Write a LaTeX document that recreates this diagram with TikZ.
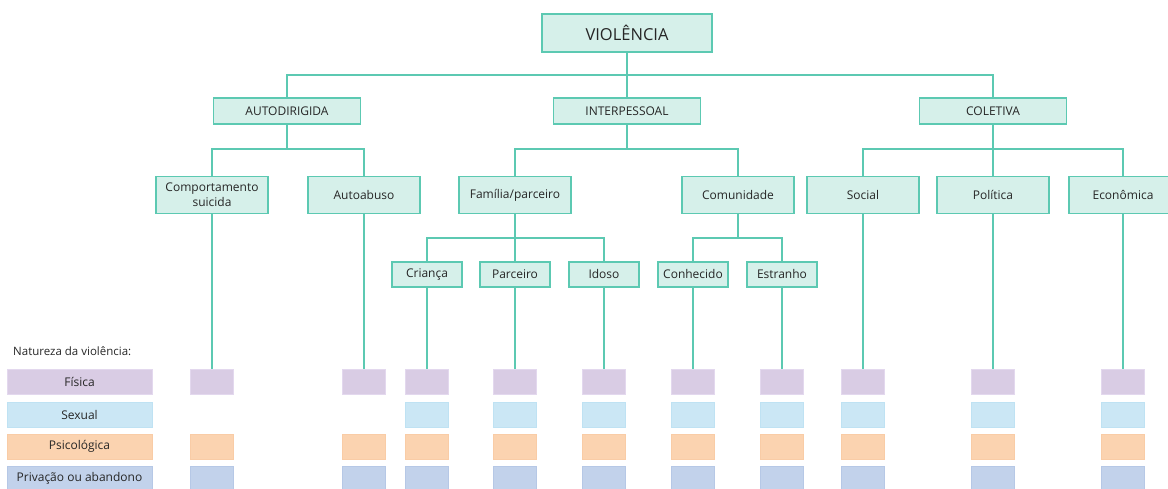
\documentclass[tikz,border=0pt]{standalone}
\usepackage{fontspec}
\setmainfont{Open Sans}
\begin{document}
\begin{tikzpicture}[x=1pt,y=-1pt,
  conn/.style={draw=lineteal,line width=2pt},
  tbox/.style={draw=lineteal,fill=boxfill,line width=1.2pt,inner sep=0pt,text=txt,font=\fontsize{12}{15}\selectfont,align=center},
  lvtwo/.style={tbox,minimum width=147pt,minimum height=26pt},
  lvthree/.style={tbox,minimum width=112pt,minimum height=37pt},
  lvfour/.style={tbox,minimum width=70pt,minimum height=25pt},
  sq/.style={inner sep=0pt,minimum width=43pt,minimum height=25pt,line width=0.8pt},
  leg/.style={inner sep=0pt,minimum width=145pt,minimum height=25pt,line width=0.8pt,text=txt,font=\fontsize{12}{14}\selectfont},
  fis/.style={fill=cfis,draw=cfisb},
  sex/.style={fill=csex,draw=csexb},
  psi/.style={fill=cpsi,draw=cpsib},
  pri/.style={fill=cpri,draw=cprib}]
\definecolor{lineteal}{HTML}{5CC9B2}
\definecolor{boxfill}{HTML}{D6F0EA}
\definecolor{txt}{HTML}{262626}
\definecolor{cfis}{HTML}{D9CCE4}
\definecolor{cfisb}{HTML}{E3D8EE}
\definecolor{csex}{HTML}{CBE7F5}
\definecolor{csexb}{HTML}{BFE2F3}
\definecolor{cpsi}{HTML}{FBD3B0}
\definecolor{cpsib}{HTML}{F9CCA6}
\definecolor{cpri}{HTML}{C2D2EB}
\definecolor{cprib}{HTML}{B6C8E6}
\useasboundingbox (0,0) rectangle (1168,489);

% hubs
\coordinate (h0) at (627,75);
\coordinate (hA) at (287,149);
\coordinate (hI) at (627,149);
\coordinate (hC) at (993,149);
\coordinate (hF) at (515,238);
\coordinate (hCo) at (738,238);

% level 1
\node[tbox,minimum width=170pt,minimum height=38pt,font=\fontsize{16.5}{18}\selectfont] (V) at (627,33) {VIOLÊNCIA};
% level 2
\node[lvtwo] (A) at (287,111) {AUTODIRIGIDA};
\node[lvtwo] (I) at (627,111) {INTERPESSOAL};
\node[lvtwo] (C) at (993,111) {COLETIVA};
% level 3
\node[lvthree] (CS) at (212,195) {Comportamento\\suicida};
\node[lvthree] (AA) at (364,195) {Autoabuso};
\node[lvthree] (FP) at (515,195) {Família/parceiro};
\node[lvthree] (CO) at (738,195) {Comunidade};
\node[lvthree] (SO) at (863,195) {Social};
\node[lvthree] (PO) at (993,195) {Política};
\node[lvthree,minimum width=108pt] (EC) at (1123,195) {Econômica};
% level 4
\node[lvfour] (CR) at (427,274.5) {Criança};
\node[lvfour] (PA) at (515,274.5) {Parceiro};
\node[lvfour] (ID) at (604,274.5) {Idoso};
\node[lvfour] (CN) at (693,274.5) {Conhecido};
\node[lvfour] (ES) at (782,274.5) {Estranho};

% legend
\node[anchor=west,text=txt,font=\fontsize{11.5}{13}\selectfont,inner sep=0pt] (NT) at (13,351) {Natureza da violência:};
\node[leg,fis] (LF) at (79.5,382) {Física};
\node[leg,sex] (LS) at (79.5,414.5) {Sexual};
\node[leg,psi] (LP) at (79.5,446.5) {Psicológica};
\node[leg,pri] (LR) at (79.5,478.5) {Privação ou abandono};

% squares
\foreach \n/\x in {1/212,2/364,3/427,4/515,5/604,6/693,7/782,8/863,9/993,10/1123}{
  \node[sq,fis] (f\n) at (\x,382) {};
  \node[sq,psi] (p\n) at (\x,446.5) {};
  \node[sq,pri] (r\n) at (\x,478.5) {};
}
\foreach \n/\x in {3/427,4/515,5/604,6/693,7/782,8/863,9/993,10/1123}{
  \node[sq,sex] (s\n) at (\x,414.5) {};
}

% connectors
\draw[conn] (V.south) -- (h0);
\draw[conn] (A.north) |- (h0) -| (C.north);
\draw[conn] (I.north) -- (h0);
\draw[conn] (A.south) -- (hA);
\draw[conn] (CS.north) |- (hA) -| (AA.north);
\draw[conn] (I.south) -- (hI);
\draw[conn] (FP.north) |- (hI) -| (CO.north);
\draw[conn] (C.south) -- (hC);
\draw[conn] (SO.north) |- (hC) -| (EC.north);
\draw[conn] (PO.north) -- (hC);
\draw[conn] (FP.south) -- (hF);
\draw[conn] (CR.north) |- (hF) -| (ID.north);
\draw[conn] (PA.north) -- (hF);
\draw[conn] (CO.south) -- (hCo);
\draw[conn] (CN.north) |- (hCo) -| (ES.north);

\draw[conn] (CS.south) -- (f1.north);
\draw[conn] (AA.south) -- (f2.north);
\draw[conn] (CR.south) -- (f3.north);
\draw[conn] (PA.south) -- (f4.north);
\draw[conn] (ID.south) -- (f5.north);
\draw[conn] (CN.south) -- (f6.north);
\draw[conn] (ES.south) -- (f7.north);
\draw[conn] (SO.south) -- (f8.north);
\draw[conn] (PO.south) -- (f9.north);
\draw[conn] (EC.south) -- (f10.north);
\end{tikzpicture}
\end{document}
